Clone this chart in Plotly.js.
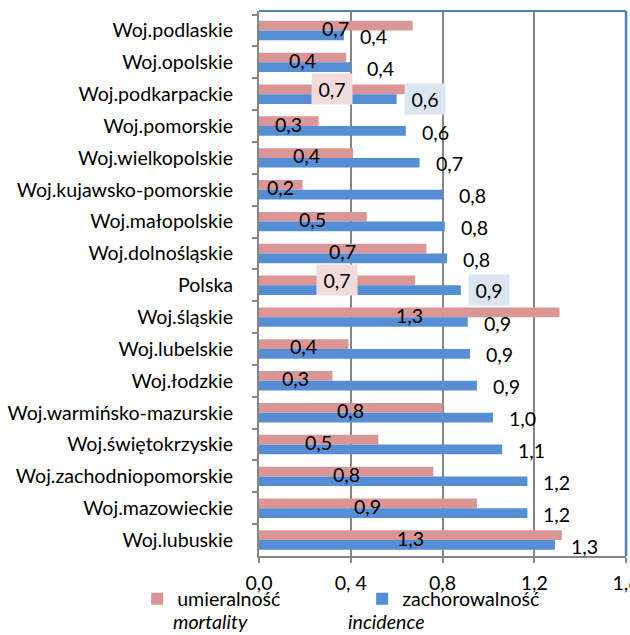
<!DOCTYPE html>
<html>
<head>
<meta charset="utf-8">
<script src="https://cdn.plot.ly/plotly-3.0.1.min.js"></script>
<style>html,body{margin:0;padding:0;background:#fff;}#chart{width:630px;height:635px;}</style>
</head>
<body>
<div id="chart"></div>
<script>
// Categories, top to bottom
const regions = [
  "Woj.podlaskie", "Woj.opolskie", "Woj.podkarpackie", "Woj.pomorskie",
  "Woj.wielkopolskie", "Woj.kujawsko-pomorskie", "Woj.małopolskie",
  "Woj.dolnośląskie", "Polska", "Woj.śląskie", "Woj.lubelskie", "Woj.łodzkie",
  "Woj.warmińsko-mazurskie", "Woj.świętokrzyskie", "Woj.zachodniopomorskie",
  "Woj.mazowieckie", "Woj.lubuskie"
];
// umieralność / mortality
const mortality = [0.67, 0.38, 0.64, 0.26, 0.41, 0.19, 0.47, 0.73, 0.68, 1.31,
  0.39, 0.32, 0.80, 0.52, 0.76, 0.95, 1.32];
const mortalityLabels = ["0,7", "0,4", "0,7", "0,3", "0,4", "0,2", "0,5", "0,7", "0,7", "1,3",
  "0,4", "0,3", "0,8", "0,5", "0,8", "0,9", "1,3"];
// zachorowalność / incidence
const incidence = [0.37, 0.40, 0.60, 0.64, 0.70, 0.80, 0.81, 0.82, 0.88, 0.91,
  0.92, 0.95, 1.02, 1.06, 1.17, 1.17, 1.29];
const incidenceLabels = ["0,4", "0,4", "0,6", "0,6", "0,7", "0,8", "0,8", "0,8", "0,9", "0,9",
  "0,9", "0,9", "1,0", "1,1", "1,2", "1,2", "1,3"];
const highlighted = ["Woj.podkarpackie", "Polska"];
const xTickVals = [0, 0.4, 0.8, 1.2, 1.6];
const xTickText = ["0,0", "0, 4", "0,8", "1,2", "1,6"];
const seriesNames = ["umieralność", "zachorowalność"];
const seriesNamesEn = ["mortality", "incidence"];

const FONT = "Lato, 'Open Sans', sans-serif";
const FS = 19.6;
const PINK = "#d99694", BLUE = "#558ed5";
const GRID = "#868686";

const traces = [
  {type: "bar", orientation: "h", name: seriesNames[0], y: regions, x: mortality,
   marker: {color: PINK}, hoverinfo: "x+y"},
  {type: "bar", orientation: "h", name: seriesNames[1], y: regions, x: incidence,
   marker: {color: BLUE}, hoverinfo: "x+y"}
];

const annotations = [];
regions.forEach((r, i) => {
  const hl = highlighted.includes(r);
  const a1 = {x: mortality[i] / 2, y: r, xref: "x", yref: "y", text: mortalityLabels[i],
    showarrow: false, xanchor: "center", yanchor: "middle", yshift: hl ? 5 : 2,
    font: {family: FONT, size: FS, color: "#000"}};
  if (hl) { a1.bgcolor = "#f2dcdb"; a1.width = 40; a1.height = 30; a1.borderpad = 0; }
  annotations.push(a1);
  const a2 = {x: incidence[i], y: r, xref: "x", yref: "y", text: incidenceLabels[i],
    showarrow: false, xanchor: "left", yanchor: "middle", xshift: hl ? 7 : 14, yshift: hl ? -5 : -6,
    font: {family: FONT, size: FS, color: "#000"}};
  if (hl) { a2.bgcolor = "#dce6f2"; a2.width = 40; a2.height = 30; a2.borderpad = 0; }
  annotations.push(a2);
});
// italic English legend subtitles
annotations.push({x: -0.236, y: -0.144, xref: "paper", yref: "paper", text: "<i>" + seriesNamesEn[0] + "</i>",
  showarrow: false, xanchor: "left", yanchor: "bottom", borderpad: 0, font: {family: FONT, size: FS, color: "#000"}});
annotations.push({x: 0.240, y: -0.144, xref: "paper", yref: "paper", text: "<i>" + seriesNamesEn[1] + "</i>",
  showarrow: false, xanchor: "left", yanchor: "bottom", borderpad: 0, font: {family: FONT, size: FS, color: "#000"}});

const layout = {
  width: 630, height: 635,
  margin: {l: 259, r: 4, t: 11, b: 79, pad: 0},
  paper_bgcolor: "#fff", plot_bgcolor: "#fff",
  font: {family: FONT, size: FS, color: "#000"},
  barmode: "group", bargap: 0.39, bargroupgap: 0,
  showlegend: true,
  legend: {orientation: "h", x: -0.332, xanchor: "left", y: -0.043, yanchor: "top",
    entrywidth: 180, entrywidthmode: "pixels", itemwidth: 30,
    font: {family: FONT, size: FS, color: "#000"}, bgcolor: "rgba(0,0,0,0)", traceorder: "normal"},
  xaxis: {range: [0, 1.6], tickvals: xTickVals, ticktext: xTickText, showgrid: true,
    gridcolor: GRID, gridwidth: 2, zeroline: false, showline: true, linecolor: GRID, linewidth: 2,
    ticks: "outside", ticklen: 5, tickcolor: GRID, tickwidth: 2, ticklabelstandoff: 3,
    ticklabeloverflow: "allow",
    tickfont: {family: FONT, size: FS, color: "#000"}, fixedrange: true},
  yaxis: {type: "category", categoryorder: "array", categoryarray: regions, autorange: "reversed",
    showgrid: false, zeroline: false, showline: true, linecolor: GRID, linewidth: 2,
    ticks: "outside", tickson: "boundaries", ticklen: 5, tickcolor: GRID, tickwidth: 2,
    ticklabelstandoff: 20, tickfont: {family: FONT, size: FS, color: "#000"}, fixedrange: true},
  shapes: [
    {type: "line", xref: "paper", yref: "paper", x0: 0, x1: 1, y0: 1, y1: 1, line: {color: "#4f81bd", width: 2}},
    {type: "line", xref: "paper", yref: "paper", x0: 1, x1: 1, y0: 0, y1: 1, line: {color: "#4f81bd", width: 2.5}}
  ],
  annotations: annotations
};

Plotly.newPlot("chart", traces, layout, {displayModeBar: false, staticPlot: true});
</script>
</body>
</html>
